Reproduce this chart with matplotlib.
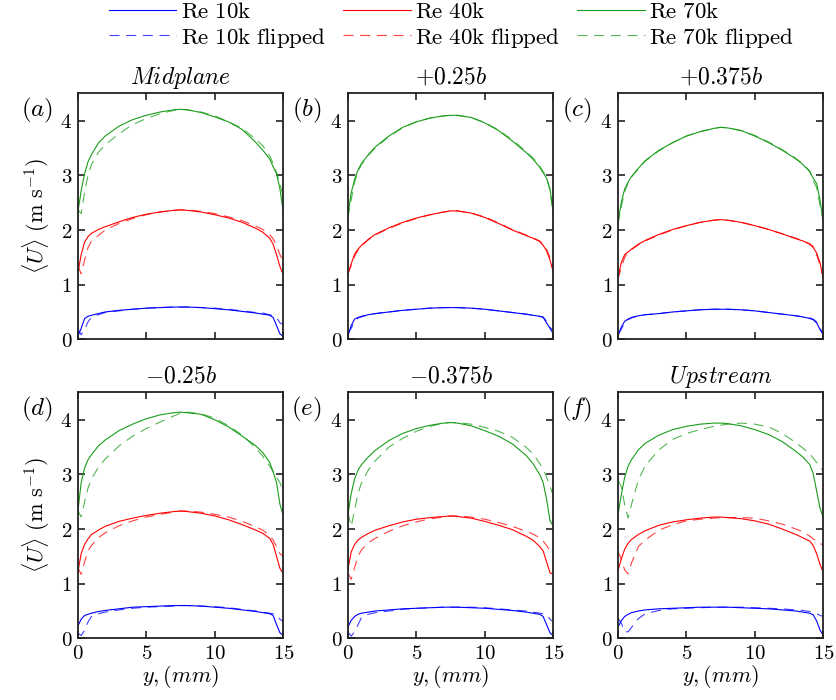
import matplotlib
matplotlib.use("Agg")
import matplotlib.pyplot as plt
import numpy as np

plt.rcParams['mathtext.fontset'] = 'cm'
plt.rcParams['font.family'] = 'serif'
plt.rcParams['font.serif'] = ['DejaVu Serif']

# Wall-normal positions (mm), shared by every profile
y_mm = [0, 0.25, 0.5, 0.75, 1, 1.5, 2, 3, 4, 5, 6, 7, 7.5, 8, 9, 10, 11, 12, 13, 13.5, 14, 14.25, 14.5, 14.75, 15]

# (a) Midplane
mid_10k = [0.05, 0.2, 0.38, 0.42, 0.44, 0.47, 0.5, 0.53, 0.55, 0.57, 0.58, 0.59, 0.59, 0.59, 0.58, 0.56, 0.54, 0.51, 0.48, 0.46, 0.44, 0.4, 0.25, 0.1, 0.05]
mid_10k_f = [0.2, 0.08, 0.18, 0.32, 0.4, 0.45, 0.49, 0.52, 0.55, 0.57, 0.58, 0.59, 0.59, 0.59, 0.58, 0.57, 0.55, 0.52, 0.49, 0.48, 0.45, 0.43, 0.4, 0.3, 0.27]
mid_40k = [1.2, 1.55, 1.78, 1.88, 1.94, 2.01, 2.06, 2.15, 2.23, 2.29, 2.33, 2.36, 2.37, 2.36, 2.33, 2.28, 2.22, 2.14, 2.03, 1.96, 1.85, 1.74, 1.55, 1.33, 1.18]
mid_40k_f = [1.35, 1.2, 1.45, 1.68, 1.8, 1.9, 2.0, 2.12, 2.21, 2.28, 2.33, 2.36, 2.37, 2.37, 2.34, 2.3, 2.24, 2.17, 2.07, 2.01, 1.92, 1.84, 1.72, 1.55, 1.42]
mid_70k = [2.31, 2.72, 3.03, 3.25, 3.38, 3.59, 3.72, 3.9, 4.02, 4.1, 4.16, 4.2, 4.21, 4.2, 4.15, 4.07, 3.98, 3.84, 3.6, 3.46, 3.3, 3.16, 3.03, 2.75, 2.31]
mid_70k_f = [2.38, 2.3, 2.7, 3.0, 3.2, 3.42, 3.56, 3.76, 3.93, 4.04, 4.13, 4.19, 4.21, 4.2, 4.16, 4.09, 3.98, 3.86, 3.66, 3.54, 3.36, 3.22, 3.05, 2.85, 2.6]

# (b) +0.25b
p25_10k = [0.05, 0.25, 0.37, 0.4, 0.42, 0.45, 0.47, 0.5, 0.53, 0.55, 0.57, 0.58, 0.58, 0.58, 0.57, 0.55, 0.52, 0.49, 0.46, 0.44, 0.42, 0.4, 0.3, 0.2, 0.1]
p25_10k_f = [0.12, 0.2, 0.33, 0.39, 0.41, 0.45, 0.47, 0.5, 0.53, 0.55, 0.57, 0.58, 0.58, 0.58, 0.57, 0.55, 0.52, 0.49, 0.46, 0.44, 0.42, 0.41, 0.33, 0.22, 0.15]
p25_40k = [1.18, 1.38, 1.56, 1.65, 1.72, 1.83, 1.92, 2.04, 2.14, 2.22, 2.28, 2.33, 2.35, 2.35, 2.31, 2.23, 2.12, 2.0, 1.9, 1.85, 1.79, 1.72, 1.62, 1.45, 1.22]
p25_40k_f = [1.2, 1.35, 1.52, 1.63, 1.71, 1.82, 1.91, 2.03, 2.13, 2.21, 2.28, 2.33, 2.35, 2.35, 2.31, 2.24, 2.13, 2.01, 1.91, 1.86, 1.8, 1.74, 1.65, 1.5, 1.25]
p25_70k = [2.25, 2.68, 2.93, 3.1, 3.22, 3.38, 3.52, 3.72, 3.88, 3.98, 4.05, 4.09, 4.1, 4.1, 4.06, 3.96, 3.82, 3.63, 3.42, 3.3, 3.15, 3.05, 2.95, 2.75, 2.3]
p25_70k_f = [2.22, 2.55, 2.88, 3.07, 3.2, 3.37, 3.5, 3.71, 3.87, 3.98, 4.05, 4.09, 4.1, 4.1, 4.06, 3.97, 3.83, 3.65, 3.44, 3.32, 3.17, 3.07, 2.96, 2.72, 2.28]

# (c) +0.375b
p375_10k = [0.05, 0.22, 0.33, 0.37, 0.4, 0.43, 0.45, 0.47, 0.5, 0.52, 0.54, 0.55, 0.55, 0.55, 0.54, 0.52, 0.49, 0.46, 0.43, 0.41, 0.38, 0.36, 0.3, 0.18, 0.08]
p375_10k_f = [0.1, 0.18, 0.3, 0.36, 0.39, 0.43, 0.45, 0.47, 0.5, 0.52, 0.54, 0.55, 0.55, 0.55, 0.54, 0.52, 0.49, 0.46, 0.43, 0.41, 0.39, 0.37, 0.32, 0.2, 0.1]
p375_40k = [1.1, 1.4, 1.55, 1.6, 1.65, 1.74, 1.81, 1.92, 2.01, 2.08, 2.14, 2.18, 2.19, 2.18, 2.14, 2.08, 2.01, 1.93, 1.84, 1.8, 1.74, 1.68, 1.58, 1.4, 1.1]
p375_40k_f = [1.1, 1.3, 1.5, 1.58, 1.64, 1.73, 1.8, 1.91, 2.0, 2.08, 2.14, 2.18, 2.19, 2.18, 2.14, 2.08, 2.01, 1.93, 1.85, 1.8, 1.75, 1.7, 1.55, 1.35, 1.12]
p375_70k = [2.12, 2.5, 2.75, 2.88, 2.98, 3.13, 3.27, 3.46, 3.6, 3.72, 3.8, 3.86, 3.88, 3.87, 3.82, 3.72, 3.6, 3.46, 3.3, 3.2, 3.07, 2.95, 2.85, 2.55, 2.12]
p375_70k_f = [2.1, 2.42, 2.7, 2.86, 2.97, 3.12, 3.26, 3.45, 3.6, 3.72, 3.8, 3.86, 3.88, 3.87, 3.82, 3.73, 3.61, 3.47, 3.31, 3.21, 3.08, 2.9, 2.78, 2.45, 2.15]

# (d) -0.25b
m25_10k = [0.22, 0.35, 0.42, 0.44, 0.46, 0.49, 0.51, 0.54, 0.57, 0.58, 0.59, 0.6, 0.6, 0.6, 0.59, 0.57, 0.55, 0.52, 0.49, 0.47, 0.45, 0.42, 0.25, 0.1, 0.05]
m25_10k_f = [0.1, 0.05, 0.15, 0.3, 0.4, 0.45, 0.48, 0.52, 0.55, 0.57, 0.58, 0.59, 0.6, 0.6, 0.59, 0.58, 0.56, 0.53, 0.5, 0.48, 0.46, 0.45, 0.42, 0.35, 0.3]
m25_40k = [1.2, 1.55, 1.72, 1.82, 1.9, 1.98, 2.05, 2.14, 2.2, 2.25, 2.29, 2.32, 2.33, 2.32, 2.29, 2.24, 2.17, 2.08, 1.98, 1.92, 1.83, 1.72, 1.5, 1.28, 1.18]
m25_40k_f = [1.3, 1.17, 1.4, 1.6, 1.7, 1.84, 1.93, 2.06, 2.15, 2.22, 2.27, 2.31, 2.33, 2.33, 2.31, 2.27, 2.22, 2.14, 2.04, 1.98, 1.88, 1.8, 1.68, 1.55, 1.5]
m25_70k = [2.3, 2.85, 3.12, 3.27, 3.36, 3.52, 3.63, 3.8, 3.92, 4.02, 4.09, 4.13, 4.14, 4.13, 4.1, 4.0, 3.87, 3.7, 3.52, 3.4, 3.22, 3.05, 2.85, 2.45, 2.24]
m25_70k_f = [2.35, 2.22, 2.5, 2.75, 2.92, 3.13, 3.28, 3.52, 3.7, 3.84, 3.96, 4.07, 4.12, 4.14, 4.11, 4.03, 3.89, 3.72, 3.48, 3.33, 3.15, 3.05, 2.95, 2.85, 2.65]

# (e) -0.375b
m375_10k = [0.2, 0.33, 0.4, 0.44, 0.46, 0.48, 0.5, 0.52, 0.54, 0.55, 0.56, 0.57, 0.57, 0.57, 0.56, 0.55, 0.53, 0.51, 0.48, 0.46, 0.44, 0.4, 0.25, 0.1, 0.04]
m375_10k_f = [0.12, 0.04, 0.12, 0.25, 0.38, 0.44, 0.47, 0.5, 0.53, 0.55, 0.56, 0.57, 0.57, 0.57, 0.57, 0.56, 0.54, 0.52, 0.5, 0.48, 0.46, 0.45, 0.43, 0.35, 0.3]
m375_40k = [1.25, 1.58, 1.72, 1.8, 1.85, 1.92, 1.98, 2.06, 2.13, 2.18, 2.21, 2.23, 2.24, 2.23, 2.2, 2.14, 2.07, 1.99, 1.87, 1.8, 1.68, 1.6, 1.4, 1.2, 1.17]
m375_40k_f = [1.2, 1.08, 1.3, 1.5, 1.62, 1.75, 1.83, 1.96, 2.06, 2.13, 2.19, 2.22, 2.24, 2.24, 2.22, 2.18, 2.12, 2.05, 1.96, 1.91, 1.84, 1.78, 1.7, 1.6, 1.55]
m375_70k = [2.24, 2.65, 2.92, 3.08, 3.18, 3.32, 3.44, 3.62, 3.75, 3.84, 3.9, 3.94, 3.95, 3.94, 3.89, 3.8, 3.7, 3.56, 3.35, 3.2, 3.0, 2.85, 2.55, 2.15, 2.05]
m375_70k_f = [2.3, 2.05, 2.35, 2.65, 2.85, 3.08, 3.25, 3.5, 3.66, 3.79, 3.88, 3.94, 3.95, 3.95, 3.92, 3.86, 3.79, 3.68, 3.5, 3.38, 3.2, 3.1, 2.95, 2.78, 2.6]

# (f) Upstream
up_10k = [0.2, 0.32, 0.4, 0.44, 0.47, 0.5, 0.52, 0.54, 0.55, 0.56, 0.57, 0.57, 0.57, 0.57, 0.56, 0.55, 0.54, 0.52, 0.5, 0.48, 0.46, 0.43, 0.32, 0.15, 0.05]
up_10k_f = [0.37, 0.28, 0.12, 0.12, 0.2, 0.36, 0.45, 0.51, 0.54, 0.55, 0.56, 0.57, 0.57, 0.57, 0.57, 0.56, 0.55, 0.54, 0.52, 0.51, 0.49, 0.47, 0.45, 0.42, 0.4]
up_40k = [1.23, 1.45, 1.63, 1.74, 1.81, 1.9, 1.97, 2.07, 2.13, 2.17, 2.2, 2.22, 2.22, 2.21, 2.19, 2.15, 2.09, 2.0, 1.9, 1.84, 1.78, 1.7, 1.55, 1.35, 1.2]
up_40k_f = [1.6, 1.45, 1.25, 1.18, 1.38, 1.68, 1.8, 1.98, 2.08, 2.15, 2.18, 2.2, 2.21, 2.21, 2.21, 2.2, 2.15, 2.09, 2.0, 1.95, 1.87, 1.82, 1.78, 1.74, 1.7]
up_70k = [2.24, 2.62, 2.95, 3.15, 3.27, 3.45, 3.57, 3.72, 3.82, 3.88, 3.92, 3.94, 3.94, 3.93, 3.89, 3.82, 3.73, 3.6, 3.42, 3.32, 3.18, 3.02, 2.7, 2.38, 2.2]
up_70k_f = [2.9, 2.78, 2.45, 2.2, 2.45, 2.9, 3.16, 3.45, 3.64, 3.75, 3.82, 3.88, 3.9, 3.92, 3.94, 3.92, 3.87, 3.75, 3.58, 3.48, 3.38, 3.3, 3.22, 3.15, 3.05]

panel_titles = [r'$Midplane$', r'$+0.25b$', r'$+0.375b$', r'$-0.25b$', r'$-0.375b$', r'$Upstream$']
panel_tags = ['(a)', '(b)', '(c)', '(d)', '(e)', '(f)']
panels = [
    [mid_10k, mid_40k, mid_70k, mid_10k_f, mid_40k_f, mid_70k_f],
    [p25_10k, p25_40k, p25_70k, p25_10k_f, p25_40k_f, p25_70k_f],
    [p375_10k, p375_40k, p375_70k, p375_10k_f, p375_40k_f, p375_70k_f],
    [m25_10k, m25_40k, m25_70k, m25_10k_f, m25_40k_f, m25_70k_f],
    [m375_10k, m375_40k, m375_70k, m375_10k_f, m375_40k_f, m375_70k_f],
    [up_10k, up_40k, up_70k, up_10k_f, up_40k_f, up_70k_f],
]
series_names = ['Re 10k', 'Re 40k', 'Re 70k', 'Re 10k flipped', 'Re 40k flipped', 'Re 70k flipped']
colors = ['#0000ff', '#ff0000', '#1a9e1a']

x_ticks = [0, 5, 10, 15]
y_ticks = [0, 1, 2, 3, 4]

fig = plt.figure(figsize=(8.36, 7.0), dpi=100)

lefts = [0.093, 0.416, 0.739]
bottoms = [0.5153, 0.0881]
w, h = 0.246, 0.3512

handles = {}
for i in range(6):
    r, c = divmod(i, 3)
    ax = fig.add_axes([lefts[c], bottoms[r], w, h])
    for k in range(6):
        col = colors[k % 3]
        if k < 3:
            ln, = ax.plot(y_mm, panels[i][k], color=col, lw=0.8)
        else:
            ln, = ax.plot(y_mm, panels[i][k], color=col, lw=0.8, alpha=0.75,
                          linestyle=(0, (9, 6)))
        handles[series_names[k]] = ln
    ax.set_xlim(0, 15)
    ax.set_ylim(0, 4.5)
    ax.tick_params(direction='in', top=True, right=True, length=5, width=1.2,
                   labelsize=15, pad=4, color='#222222')
    ax.set_yticks(y_ticks, labels=['$%d$' % v for v in y_ticks])
    if r == 1:
        ax.set_xticks(x_ticks, labels=['$%d$' % v for v in x_ticks])
        ax.set_xlabel(r'$y, (mm)$', fontsize=16, labelpad=0)
    else:
        ax.set_xticks(x_ticks, labels=[])
    if c == 0:
        ax.set_ylabel(r'$\langle U\rangle\ (\mathrm{m\ s^{-1}})$', fontsize=16, labelpad=6)
    for sp in ax.spines.values():
        sp.set_linewidth(1.3)
        sp.set_color('#222222')
    ax.set_title(panel_titles[i], fontsize=17, pad=7)
    ax.text(-0.2, 0.93, '$' + panel_tags[i] + '$', transform=ax.transAxes,
            fontsize=18, ha='center', va='center')

order = ['Re 10k', 'Re 10k flipped', 'Re 40k', 'Re 40k flipped', 'Re 70k', 'Re 70k flipped']
fig.legend([handles[n] for n in order],
           [r'$\mathrm{' + n.replace(' ', r'\ ') + '}$' for n in order],
           ncol=3, loc='upper left', bbox_to_anchor=(0.119, 1.012), frameon=False,
           fontsize=16.5, handlelength=2.95, handletextpad=0.2, columnspacing=0.75,
           labelspacing=0.12, borderaxespad=0.0)

fig.savefig('out.png', dpi=100)
